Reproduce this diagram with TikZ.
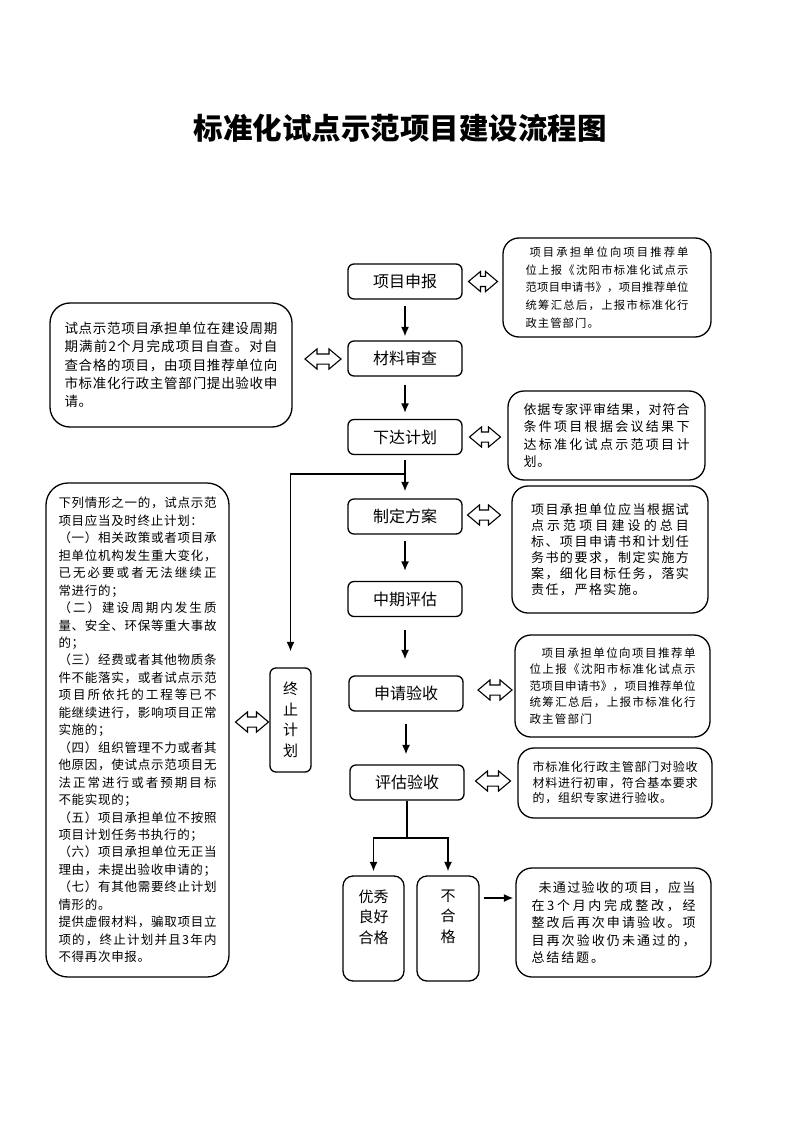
\documentclass[tikz,border=0pt]{standalone}
\usepackage{fontspec}
\setmainfont{Noto Sans CJK SC}
\usetikzlibrary{arrows.meta,shapes.arrows}
\newdimen\jw \newdimen\jg
\def\jsp#1#2\jend{#1\ifx\relax#2\relax\else\hfil\jsp#2\jend\fi}
\def\jfx#1#2\jend{#1\ifx\relax#2\relax\else\hskip\jg\jfx#2\jend\fi}
\newcommand\jl[2][0pt]{\hbox to \jw{\hskip#1\relax\jsp#2\jend}}
\newcommand\rl[2][0pt]{\hbox{\hskip#1\relax\jfx#2\jend}}
\newcommand\tb[4]{\vbox{\jw=#1\relax\jg=#2\relax\baselineskip=#3\relax\lineskiplimit=-20pt\lineskip=0pt\relax#4}}
\begin{document}
\begin{tikzpicture}[x=1pt,y=-1pt,
  mainbox/.style={draw, line width=1.3pt, rounded corners=6pt, minimum width=114pt, minimum height=35pt, inner sep=0pt, font=\fontsize{16}{18}\selectfont},
  sidebox/.style={draw, line width=1.3pt, rounded corners=16pt, inner sep=0pt},
  arr/.style={-{Latex[length=9.5pt,width=8pt]}, line width=1.5pt},
  ln/.style={line width=1.5pt},
  dbl/.style={double arrow, draw, line width=1.1pt, inner xsep=0pt, inner ysep=4.5pt, double arrow head extend=5pt, double arrow tip angle=80},
  vtext/.style={font=\fontsize{15}{20.5}\selectfont, align=center, inner sep=0pt}]
\useasboundingbox (0,0) rectangle (800,1131);
\fill[white] (0,0) rectangle (800,1131);

\node[font=\bfseries\fontsize{29.5}{32}\selectfont] (title) at (400,128) {标准化试点示范项目建设流程图};

% main column
\node[mainbox] (m1) at (405,281.5) {项目申报};
\node[mainbox] (m2) at (405,358.5) {材料审查};
\node[mainbox] (m3) at (405,437) {下达计划};
\node[mainbox] (m4) at (405,516.5) {制定方案};
\node[mainbox] (m5) at (405,599) {中期评估};
\node[mainbox] (m6) at (406,693.5) {申请验收};
\node[mainbox] (m7) at (407,782.5) {评估验收};

\node[mainbox, minimum width=41pt, minimum height=104pt, align=center, font=\fontsize{15}{20.5}\selectfont] (stop) at (290.5,720) {终\\止\\计\\划};

% bottom boxes
\node[sidebox, rounded corners=10pt, minimum width=61pt, minimum height=105pt] (good) at (373.5,928.5) {};
\node[vtext] (goodt) at (373.5,917) {优秀\\良好\\合格};
\node[sidebox, rounded corners=10pt, minimum width=62pt, minimum height=105pt] (bad) at (448,928.5) {};
\node[vtext] (badt) at (448,916.5) {不\\合\\格};

% side boxes
\node[sidebox, minimum width=208pt, minimum height=99pt, font=\fontsize{11.3}{13}\selectfont] (r1) at (607,287.5)
 {\tb{163pt}{1.1pt}{17.6pt}{\jl[4pt]{项目承担单位向项目推荐单}\jl{位上报《沈阳市标准化试点示}\jl{范项目申请书》，项目推荐单位}\jl{统筹汇总后，上报市标准化行}\rl{政主管部门。}}};

\node[sidebox, rounded corners=20pt, minimum width=242pt, minimum height=124pt, font=\fontsize{13.5}{15}\selectfont] (l1) at (171,365)
 {\tb{213pt}{0.75pt}{18.3pt}{\jl{试点示范项目承担单位在建设周期}\jl{期满前 2 个月完成项目自查。对自}\jl{查合格的项目，由项目推荐单位向}\jl{市标准化行政主管部门提出验收申}\rl{请。}}};

\node[sidebox, minimum width=197pt, minimum height=89pt, font=\fontsize{13}{15}\selectfont] (r2) at (606.5,435.5)
 {\tb{166pt}{0.9pt}{17.6pt}{\jl{依据专家评审结果，对符合}\jl{条件项目根据会议结果下}\jl{达标准化试点示范项目计}\rl{划。}}};

\node[sidebox, minimum width=196pt, minimum height=127pt, font=\fontsize{13}{15}\selectfont] (r3) at (610,549.5)
 {\tb{158pt}{1.5pt}{16pt}{\jl{项目承担单位应当根据试}\jl{点示范项目建设的总目}\jl{标、项目申请书和计划任}\jl{务书的要求，制定实施方}\jl{案，细化目标任务，落实}\rl{责任，严格实施。}}};

\node[sidebox, minimum width=195pt, minimum height=102pt, font=\fontsize{11.5}{13}\selectfont] (r4) at (612.5,686)
 {\tb{166pt}{1.2pt}{16.5pt}{\jl[12pt]{项目承担单位向项目推荐单}\jl{位上报《沈阳市标准化试点示}\jl{范项目申请书》，项目推荐单位}\jl{统筹汇总后，上报市标准化行}\rl{政主管部门}}};

\node[sidebox, minimum width=194pt, minimum height=70pt, font=\fontsize{12}{14}\selectfont] (r5) at (615,783)
 {\tb{165pt}{0.75pt}{15.5pt}{\jl{市标准化行政主管部门对验收}\jl{材料进行初审，符合基本要求}\rl{的，组织专家进行验收。}}};

\node[sidebox, minimum width=195pt, minimum height=109pt, font=\fontsize{13}{15}\selectfont] (fail) at (613.5,922.5)
 {\tb{164pt}{1.9pt}{17.5pt}{\jl[7pt]{未通过验收的项目，应当}\jl{在 3 个月内完成整改，经}\jl{整改后再次申请验收。项}\jl{目再次验收仍未通过的，}\rl{总结结题。}}};

\node[sidebox, rounded corners=22pt, minimum width=183pt, minimum height=494pt, font=\fontsize{12.5}{14}\selectfont] (big) at (137.5,730)
 {\tb{158pt}{0.7pt}{17.46pt}{%
 \jl{下列情形之一的，试点示范}\rl{项目应当及时终止计划：}%
 \jl{（一）相关政策或者项目承}\jl{担单位机构发生重大变化，}\jl{已无必要或者无法继续正}\rl{常进行的；}%
 \jl{（二）建设周期内发生质}\jl{量、安全、环保等重大事故}\rl{的；}%
 \jl{（三）经费或者其他物质条}\jl{件不能落实，或者试点示范}\jl{项目所依托的工程等已不}\jl{能继续进行，影响项目正常}\rl{实施的；}%
 \jl{（四）组织管理不力或者其}\jl{他原因，使试点示范项目无}\jl{法正常进行或者预期目标}\rl{不能实现的；}%
 \jl{（五）项目承担单位不按照}\rl{项目计划任务书执行的；}%
 \jl{（六）项目承担单位无正当}\rl{理由，未提出验收申请的；}%
 \jl{（七）有其他需要终止计划}\rl{情形的。}%
 \jl{提供虚假材料，骗取项目立}\jl{项的，终止计划并且 3 年内}\rl{不得再次申报。}}};

% double arrows
\node[dbl, minimum height=29pt] (d1) at (483,281.5) {};
\node[dbl, minimum height=36pt] (d2) at (323,359) {};
\node[dbl, minimum height=31pt] (d3) at (485,437) {};
\node[dbl, minimum height=33pt] (d4) at (484,515) {};
\node[dbl, minimum height=34pt] (d5) at (495,690) {};
\node[dbl, minimum height=35pt] (d6) at (493,781) {};
\node[dbl, minimum height=33pt] (d7) at (252,722) {};

% flow arrows
\draw[arr, shorten <=6pt, shorten >=4pt] (m1.south) -- (m2.north);
\draw[arr, shorten <=8pt, shorten >=6pt] (m2.south) -- (m3.north);
\draw[arr, shorten <=5pt, shorten >=7pt] (m3.south) -- (m4.north);
\draw[arr, shorten <=6pt, shorten >=10pt] (m4.south) -- (m5.north);
\draw[arr, shorten <=13pt, shorten >=16pt] (m5.south) -- (m5.south |- m6.north);
\draw[arr, shorten <=12pt, shorten >=10pt] (m6.south) -- (m6.south |- m7.north);

\coordinate (br) at (405,474);
\draw[arr] (br) -| ([yshift=16pt]stop.north);

\coordinate (sp) at (407,838);
\draw[ln] (m7.south) -- (sp);
\draw[arr, shorten >=4pt] (sp) -| (good.north);
\draw[arr, shorten >=4pt] (sp) -| (bad.north);
\coordinate (fa) at ([yshift=30.5pt]bad.east);
\draw[arr, shorten <=4pt, shorten >=2pt] (fa) -- (fa -| fail.west);
\end{tikzpicture}
\end{document}
